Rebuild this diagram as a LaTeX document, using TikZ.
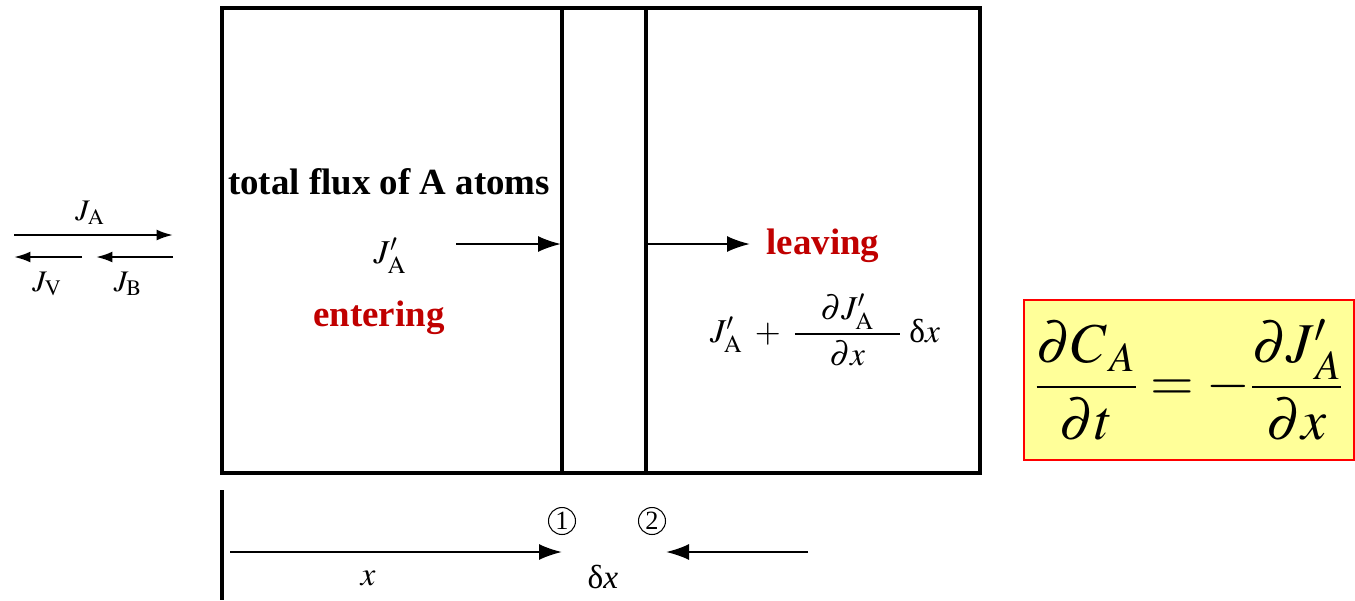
\documentclass[tikz,border=0pt]{standalone}
\usepackage{mathptmx}
\usepackage{fontspec}
\setmainfont{Liberation Serif}
\usetikzlibrary{arrows.meta, positioning, calc}
\definecolor{fluxred}{RGB}{192,0,0}
\definecolor{boxyellow}{RGB}{255,255,153}

\begin{document}
\begin{tikzpicture}[
  x=0.02cm, y=-0.02cm,
  wall/.style={line width=1.9pt},
  flow/.style={-{Latex[length=4.6mm, width=3.2mm]}, line width=1.2pt},
  smallflow/.style={-{Latex[length=3.3mm, width=2.2mm]}, line width=1.3pt},
  lbl/.style={inner sep=1pt, font=\fontsize{21}{24}\selectfont\bfseries},
  note/.style={lbl, text=fluxred},
  sym/.style={inner sep=1pt, font=\fontsize{19}{22}\selectfont},
  tiny/.style={inner sep=1pt, font=\fontsize{17}{19}\selectfont},
  plane/.style={circle, draw, line width=0.6pt, minimum size=0.54cm, inner sep=0pt, font=\fontsize{15}{17}\selectfont},
  eqbox/.style={draw=red, fill=boxyellow, line width=1pt, minimum width=6.6cm, minimum height=3.2cm, inner sep=1pt},
]
  \useasboundingbox (0,0) rectangle (1355,600);

  % slab between planes 1 and 2
  \draw[wall] (222,8) rectangle (980,473);
  \draw[wall] (562,8) -- (562,473);
  \draw[wall] (646,8) -- (646,473);

  % fluxes on the left
  \coordinate (ja0) at (14,235);  \coordinate (ja1) at (173,235);
  \coordinate (jv0) at (82,257);  \coordinate (jv1) at (14,257);
  \coordinate (jb0) at (173,257); \coordinate (jb1) at (96,257);
  \draw[smallflow] (ja0) -- (ja1);
  \draw[smallflow] (jv0) -- (jv1);
  \draw[smallflow] (jb0) -- (jb1);
  \node[tiny] (ja) at (90,213) {$J_{\mathrm{A}}$};
  \node[tiny] (jv) at (47,284) {$J_{\mathrm{V}}$};
  \node[tiny] (jb) at (128,284) {$J_{\mathrm{B}}$};

  % entering side
  \node[lbl] (title) at (389,182) {total flux of A atoms};
  \node[sym] (jin) at (390,256) {$J'_{\mathrm{A}}$};
  \node[note] (enter) at (379,318) {entering};
  \coordinate (inTail) at (456,244); \coordinate (inHead) at (561,244);
  \draw[flow] (inTail) -- (inHead);

  % leaving side
  \coordinate (outTail) at (646,244); \coordinate (outHead) at (750,244);
  \draw[flow] (outTail) -- (outHead);
  \node[note] (leave) at (823,246) {leaving};
  \node[sym] (jout) at (825,330) {$J'_{\mathrm{A}}\;+\;\displaystyle\frac{\makebox[2.1cm]{$\partial J'_{\mathrm{A}}$}}{\partial x}\;\mbox{δ}x$};

  % distance axis below
  \draw[wall] (222,490) -- (222,600);
  \coordinate (xTail) at (230,552); \coordinate (xHead) at (562,552);
  \coordinate (dTail) at (808,552); \coordinate (dHead) at (666,552);
  \draw[flow] (xTail) -- (xHead);
  \draw[flow] (dTail) -- (dHead);
  \node[plane] (one) at (562,521) {1};
  \node[plane] (two) at (652,521) {2};
  \node[sym] (xlbl) at (368,578) {$x$};
  \node[sym] (dx) at (603,577) {δ\textit{x}};

  % continuity equation
  \node[eqbox, font=\fontsize{32}{38}\selectfont] (fick) at (1189,380)
    {$\displaystyle\frac{\partial C_{\,A}}{\partial t}=-\frac{\partial J'_{\,A}}{\partial x}$};
\end{tikzpicture}
\end{document}
